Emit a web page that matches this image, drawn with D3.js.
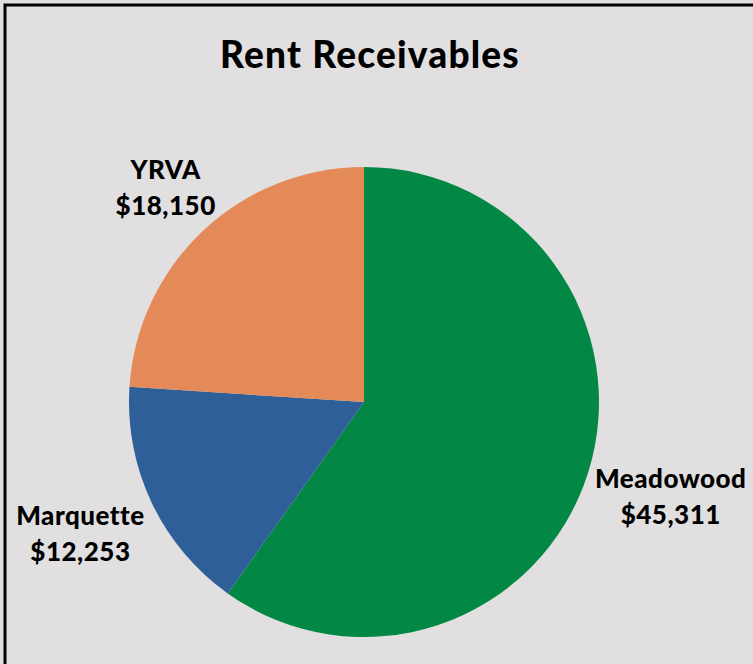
<!DOCTYPE html>
<meta charset="utf-8">
<style>
body { margin: 0; background: #e1dfe0; }
svg { display: block; }
.title { font-family: Lato, sans-serif; font-weight: 900; font-size: 37px; letter-spacing: 1.2px; }
.label { font-family: Lato, sans-serif; font-weight: 900; font-size: 26px; letter-spacing: 0.5px; }
</style>
<svg width="753" height="664"></svg>
<script src="https://d3js.org/d3.v7.min.js"></script>
<script>
var names = ["Meadowood", "Marquette", "YRVA"],
    values = [45311, 12253, 18150],
    colors = ["#028844", "#2e5f99", "#e38a58"];

var svg = d3.select("svg"),
    width = +svg.attr("width"),
    height = +svg.attr("height"),
    cx = 364, cy = 402, radius = 235;

svg.append("rect")
    .attr("width", width)
    .attr("height", height)
    .attr("fill", "#e1dfe0");

// frame: only top and left edges show, the rest is cut off
svg.append("rect")
    .attr("x", 5)
    .attr("y", 5)
    .attr("width", width + 20)
    .attr("height", height + 20)
    .attr("fill", "none")
    .attr("stroke", "#000")
    .attr("stroke-width", 3);

svg.append("text")
    .attr("class", "title")
    .attr("x", 370)
    .attr("y", 68)
    .attr("text-anchor", "middle")
    .text("Rent Receivables");

var data = names.map(function(n, i) { return {name: n, value: values[i], color: colors[i]}; });

var pie = d3.pie()
    .sort(null)
    .value(function(d) { return d.value; });

var arc = d3.arc().innerRadius(0).outerRadius(radius);

// label distance from centre, per slice
var labelRadius = {Meadowood: 322, Marquette: 314, YRVA: 290};

var g = svg.append("g")
    .attr("transform", "translate(" + cx + "," + cy + ")");

var arcs = pie(data);

g.selectAll("path")
    .data(arcs)
  .enter().append("path")
    .attr("d", arc)
    .attr("fill", function(d) { return d.data.color; });

var fmt = d3.format("$,");

var labels = g.selectAll("text.label")
    .data(arcs)
  .enter().append("text")
    .attr("class", "label")
    .attr("text-anchor", "middle")
    .attr("transform", function(d) {
      var r = labelRadius[d.data.name];
      var c = d3.arc().innerRadius(r).outerRadius(r).centroid(d);
      return "translate(" + c[0] + "," + c[1] + ")";
    });

labels.append("tspan")
    .attr("x", 0)
    .attr("dy", "-0.45em")
    .text(function(d) { return d.data.name; });

labels.append("tspan")
    .attr("x", 0)
    .attr("dy", "1.38em")
    .text(function(d) { return fmt(d.data.value); });
</script>
